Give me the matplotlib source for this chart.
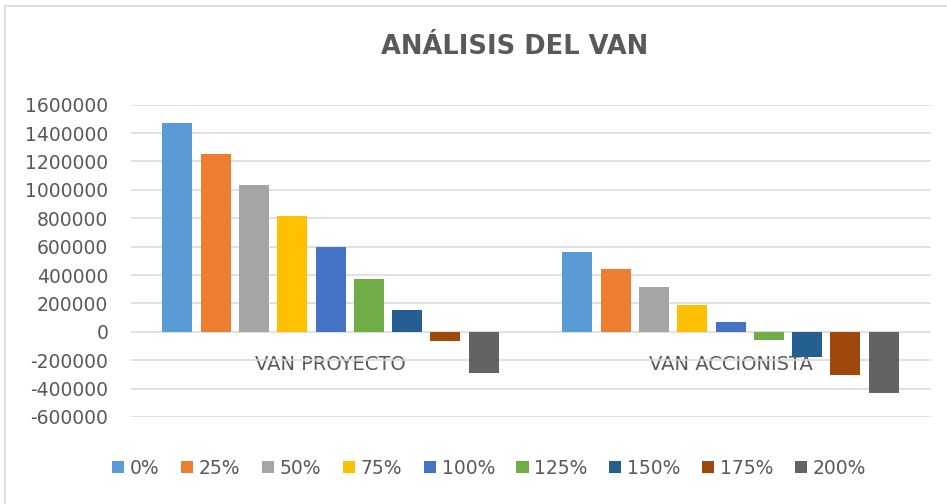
import matplotlib
matplotlib.use("Agg")
import matplotlib.pyplot as plt
from matplotlib.patches import Rectangle
import numpy as np

# data
categorias = ["VAN PROYECTO", "VAN ACCIONISTA"]
series = ["0%", "25%", "50%", "75%", "100%", "125%", "150%", "175%", "200%"]
van_proyecto = [1472000, 1256000, 1035000, 815000, 595000, 375000, 153000, -66000, -287000]
van_accionista = [564000, 440000, 316000, 192000, 68000, -56000, -180000, -304000, -428000]
y_ticks = [1600000, 1400000, 1200000, 1000000, 800000, 600000, 400000, 200000, 0,
           -200000, -400000, -600000]

colores = ["#5B9BD5", "#ED7D31", "#A5A5A5", "#FFC000", "#4472C4",
           "#70AD47", "#255E91", "#9E480E", "#636363"]
gris = "#595959"

plt.rcParams['font.family'] = ['DejaVu Sans']

fig = plt.figure(figsize=(9.47, 5.04), dpi=100)
ax = fig.add_axes([130.5/947, 1-417/504, 800/947, (417-104.7)/504])

x = np.arange(len(categorias))
paso = 0.0958
ancho = 0.075
for i, s in enumerate(series):
    vals = [van_proyecto[i], van_accionista[i]]
    ax.bar(x + (i - 4)*paso, vals, width=ancho, color=colores[i], label=s, zorder=3)

ax.set_xlim(-0.5, 1.5)
ax.set_ylim(-600000, 1600000)
ax.set_yticks(y_ticks)
ax.set_yticklabels([str(v) for v in y_ticks])
ax.grid(axis='y', color='#D9D9D9', linewidth=1.1, zorder=0)
ax.tick_params(axis='y', length=0, pad=16, labelsize=13.5, labelcolor=gris)

# category labels sit just under the zero line, as in Excel
ax.spines['bottom'].set_position(('data', 0))
ax.set_xticks(x)
ax.set_xticklabels(categorias)
ax.tick_params(axis='x', length=0, pad=17, labelsize=14, labelcolor=gris)
for sp in ax.spines.values():
    sp.set_visible(False)

fig.text(515/947, 1-47/504, "ANÁLISIS DEL VAN", ha='center', va='center',
         fontsize=18.5, fontweight='bold', color=gris)

leg = fig.legend(loc='center', bbox_to_anchor=(489/947, 1-468/504), ncol=9,
                 frameon=False, fontsize=13.5, handlelength=0.65, handleheight=0.65,
                 handletextpad=0.3, columnspacing=1.15)
for t in leg.get_texts():
    t.set_color(gris)

# thin chart border (top and left visible in the reference)
fig.patches.append(Rectangle((5/947, -0.1), 1.2, 1.1 - 6/504, transform=fig.transFigure,
                             fill=False, edgecolor='#D9D9D9', linewidth=1.2, clip_on=False))

fig.savefig("out.png", dpi=100)
